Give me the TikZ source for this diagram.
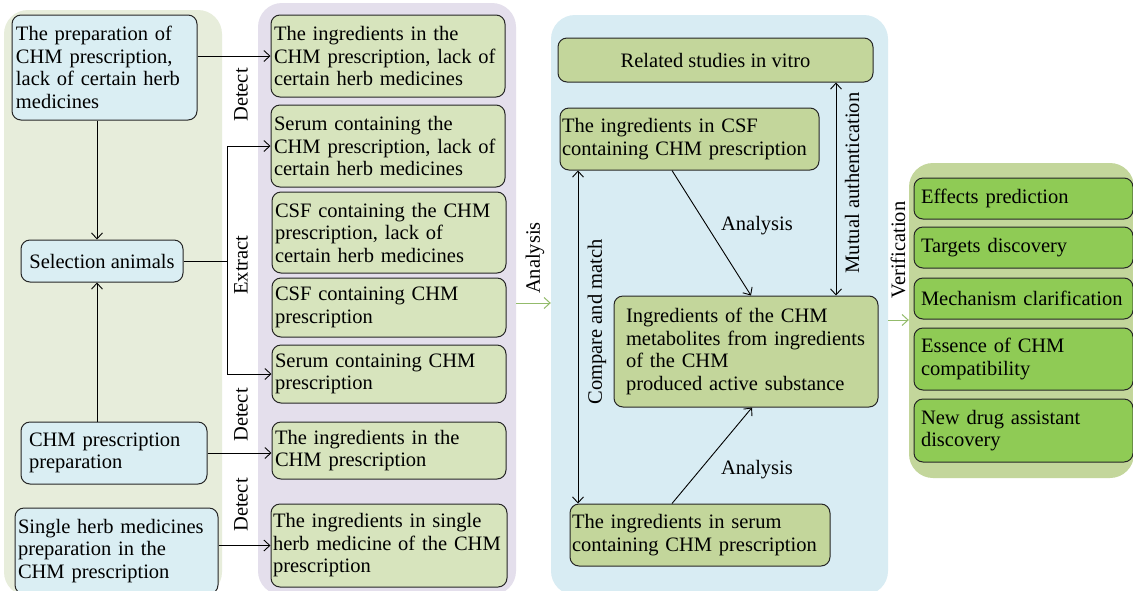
\documentclass[tikz,border=0pt]{standalone}
\usepackage{fontspec}
\setmainfont{Liberation Serif}
\usetikzlibrary{arrows.meta,calc}
\definecolor{cPL}{HTML}{E7EDDB}
\definecolor{cPP}{HTML}{E4DFEC}
\definecolor{cPB}{HTML}{D8ECF3}
\definecolor{cPR}{HTML}{C3D69B}
\definecolor{cLB}{HTML}{DAEEF3}
\definecolor{cGL}{HTML}{D7E4BD}
\definecolor{cGM}{HTML}{C3D69B}
\definecolor{cGR}{HTML}{8FCB55}
\definecolor{cGA}{HTML}{93BB6B}
\newcommand\fs{\fontsize{20.5}{22.5}\selectfont}
\tikzset{
  panel/.style={rounded corners=24pt, draw=none, inner sep=0pt},
  box/.style={draw=black!85, line width=1pt, rounded corners=9pt, inner xsep=4pt, inner ysep=0pt, align=left, font=\fs},
  lbox/.style={box, fill=cLB},
  gbox/.style={box, fill=cGL},
  mbox/.style={box, fill=cGM},
  rbox/.style={box, fill=cGR},
  lab/.style={font=\fs, inner sep=0pt},
  vlab/.style={font=\fs, inner sep=0pt, rotate=90},
  arr/.style={line width=0.9pt, -{Straight Barb[length=6pt,width=11pt]}},
  darr/.style={line width=0.9pt, {Straight Barb[length=6pt,width=11pt]}-{Straight Barb[length=6pt,width=11pt]}},
  garr/.style={line width=1pt, draw=cGA, -{Straight Barb[length=6pt,width=11pt]}},
  ln/.style={line width=0.9pt}
}
\begin{document}
\begin{tikzpicture}[x=1pt,y=-1pt]
\clip (0,0) rectangle (1133,590);
\fill[white] (0,0) rectangle (1133,590);
% panels
\node[panel, fill=cPL, minimum width=218pt, minimum height=586pt] (PL) at (113,303) {};
\node[panel, fill=cPP, minimum width=258pt, minimum height=592pt] (PP) at (387,299) {};
\node[panel, fill=cPB, minimum width=337pt, minimum height=580pt] (PB) at (719.5,305) {};
\node[panel, fill=cPR, minimum width=225pt, minimum height=315pt] (PR) at (1021.5,320.5) {};
% left boxes
\node[lbox, minimum width=185pt, minimum height=105pt, text width=177pt] (L1) at (104.5,67.5)
  {The preparation of\\CHM prescription,\\lack of certain herb\\medicines};
\node[lbox, minimum width=162pt, minimum height=42pt, align=center] (L2) at (102,261) {Selection animals};
\node[lbox, minimum width=186pt, minimum height=62pt, text width=170pt, inner xsep=8pt] (L3) at (114,453)
  {CHM prescription\\preparation};
\node[lbox, minimum width=203pt, minimum height=86pt, text width=197pt, inner xsep=3pt] (L4) at (116.5,551)
  {Single herb medicines\\preparation in the\\CHM prescription};
% purple panel boxes
\node[gbox, minimum width=234pt, minimum height=82pt, text width=228pt, inner xsep=3pt] (P1) at (388,56)
  {The ingredients in the\\CHM prescription, lack of\\certain herb medicines};
\node[gbox, minimum width=234pt, minimum height=82pt, text width=228pt, inner xsep=3pt] (P2) at (388,146)
  {Serum containing the\\CHM prescription, lack of\\certain herb medicines};
\node[gbox, minimum width=234pt, minimum height=81pt, text width=228pt, inner xsep=3pt] (P3) at (389,232.5)
  {CSF containing the CHM\\prescription, lack of\\certain herb medicines};
\node[gbox, minimum width=234pt, minimum height=59pt, text width=228pt, inner xsep=3pt] (P4) at (389,307.5)
  {CSF containing CHM\\prescription};
\node[gbox, minimum width=234pt, minimum height=58pt, text width=228pt, inner xsep=3pt] (P5) at (389,374)
  {Serum containing CHM\\prescription};
\node[gbox, minimum width=234pt, minimum height=57pt, text width=228pt, inner xsep=3pt] (P6) at (389,450.5)
  {The ingredients in the\\CHM prescription};
\node[gbox, minimum width=234pt, minimum height=83pt, text width=232pt, inner xsep=2pt] (P7) at (389,545.5)
  {The ingredients in single\\herb medicine of the CHM\\prescription};
% blue panel boxes
\node[mbox, minimum width=315pt, minimum height=44pt, align=center] (B1) at (715.5,60) {Related studies in vitro};
\node[mbox, minimum width=259pt, minimum height=62pt, text width=255pt, inner xsep=2pt] (B2) at (689.5,139)
  {The ingredients in CSF\\containing CHM prescription};
\node[mbox, minimum width=264pt, minimum height=111pt, text width=240pt, inner xsep=12pt] (B3) at (746,351.5)
  {Ingredients of the CHM\\metabolites from ingredients\\of the CHM\\produced active substance};
\node[mbox, minimum width=260pt, minimum height=62pt, text width=256pt, inner xsep=2pt] (B4) at (700,535)
  {The ingredients in serum\\containing CHM prescription};
% right boxes
\node[rbox, minimum width=219pt, minimum height=41pt, text width=205pt, inner xsep=7pt] (R1) at (1023.5,198.5) {Effects prediction};
\node[rbox, minimum width=219pt, minimum height=41pt, text width=205pt, inner xsep=7pt] (R2) at (1023.5,247.5) {Targets discovery};
\node[rbox, minimum width=219pt, minimum height=41pt, text width=205pt, inner xsep=7pt] (R3) at (1023.5,298.5) {Mechanism clarification};
\node[rbox, minimum width=219pt, minimum height=62pt, text width=205pt, inner xsep=7pt] (R4) at (1023.5,359) {Essence of CHM\\compatibility};
\node[rbox, minimum width=219pt, minimum height=63pt, text width=205pt, inner xsep=7pt] (R5) at (1023.5,430.5) {New drug assistant\\discovery};
% helper coordinates
\coordinate (vx) at (97,0);
\coordinate (ex) at (227,0);
\coordinate (cm) at (578,0);
\coordinate (ma) at (836,0);
\coordinate (ay) at (0,303);
\coordinate (vy) at (0,320);
% left connectors
\draw[arr] (P1.west -| L1.east) -- (P1.west);
\draw[arr] (L1.south -| vx) -- (L2.north -| vx);
\draw[arr] (L3.north -| vx) -- (L2.south -| vx);
\draw[arr] (L2.east) -| (ex |- P2.west) -- (P2.west);
\draw[arr] (L2.east -| ex) |- (P5.west);
\draw[arr] (L3.east) -- (L3.east -| P6.west);
\draw[arr] (P7.west -| L4.east) -- (P7.west);
% green arrows
\draw[garr] (PP.east |- ay) -- (PB.west |- ay);
\draw[garr] (PB.east |- vy) -- (PR.west |- vy);
% blue connectors
\draw[darr] (cm |- B2.south) -- (cm |- B4.north);
\draw[darr] (ma |- B1.south) -- (ma |- B3.north);
\draw[arr] ([xshift=-17.5pt]B2.south) -- ([xshift=5pt]B3.north);
\draw[arr] ([xshift=-28pt]B4.north) -- ([xshift=6pt]B3.south);
% labels
\node[vlab] (t1) at (241,95) {Detect};
\node[vlab] (t2) at (241,265) {Extract};
\node[vlab] (t3) at (241,415) {Detect};
\node[vlab] (t4) at (241,505) {Detect};
\node[vlab] (t5) at (535,258) {Analysis};
\node[vlab] (t6) at (597,322) {Compare and match};
\node[vlab] (t7) at (852,183) {Mutual authentication};
\node[vlab] (t8) at (898,250) {Verification};
\node[lab] (t9) at (757,226) {Analysis};
\node[lab] (t10) at (757,470) {Analysis};
\end{tikzpicture}
\end{document}
